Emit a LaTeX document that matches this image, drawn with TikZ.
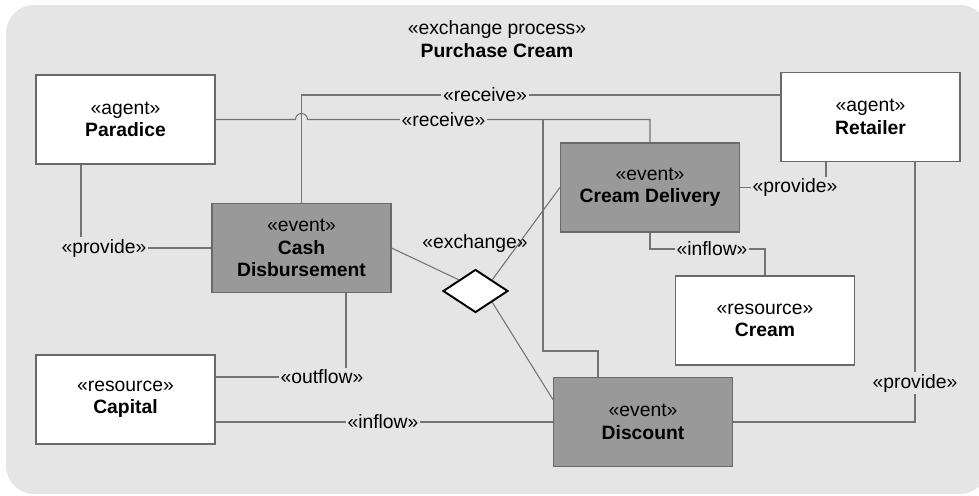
\documentclass[tikz,border=0pt]{standalone}
\usepackage{fontspec}
\setmainfont{Liberation Sans}
\usetikzlibrary{shapes,arrows,positioning,shapes.geometric}

\definecolor{sfondo}{RGB}{229,229,229}
\definecolor{evento}{RGB}{153,153,153}
\definecolor{bordo}{RGB}{105,105,105}
\definecolor{linee}{RGB}{115,115,115}

\begin{document}
\begin{tikzpicture}[x=0.02cm,y=-0.02cm]
\tikzset{base/.style={text=black, align=center, draw=bordo, line width=0.7pt, minimum width=3.58cm, minimum height=1.78cm, font=\fontsize{11}{12.8}\selectfont}, }
\tikzset{agent node/.style={base, fill=white}, }
\tikzset{resource node/.style={base, fill=white}, }
\tikzset{event node/.style={base, fill=evento}, }
\tikzset{scambio node/.style={diamond, draw=black, fill=white, line width=1.1pt, minimum width=1.3cm, minimum height=0.86cm, inner sep=0pt}, }
\tikzset{testo/.style={font=\fontsize{11}{12.8}\selectfont, align=center, inner sep=1pt}, }
\tikzset{etichetta/.style={testo, fill=sfondo}, }
\tikzset{linea/.style={draw=linee, line width=0.6pt}, }

\useasboundingbox (0,0) rectangle (979,495);
\fill[sfondo, rounded corners=16pt] (6,5) rectangle (988,494);

\node[testo] (titolo) at (497,39) {«exchange process»\\\textbf{Purchase Cream}};

\node[agent node] (paradice) at (125.5,119.5) {«agent»\\\textbf{Paradice}};
\node[agent node] (retailer) at (870.5,117) {«agent»\\\textbf{Retailer}};
\node[event node] (delivery) at (650,187.5) {«event»\\\textbf{Cream Delivery}};
\node[event node] (cash) at (301.5,248) {«event»\\\textbf{Cash}\\\textbf{Disbursement}};
\node[event node] (discount) at (643,422) {«event»\\\textbf{Discount}};
\node[resource node] (capital) at (125.5,399.5) {«resource»\\\textbf{Capital}};
\node[resource node] (cream) at (765,320.5) {«resource»\\\textbf{Cream}};
\node[scambio node] (scambio) at (475.5,291) {};

\coordinate (bivio) at (543,0 |- paradice.east);

\draw[linea] (cash.north) |- (retailer.west |- 0,95);
\draw[linea] (paradice.east) -- (295.5,0 |- paradice.east) arc[start angle=180, end angle=0, radius=1.2mm] -- (bivio) -- (delivery.north |- bivio) -- (delivery.north);
\draw[linea] (bivio) |- (598,351) -- (598,0 |- discount.north);
\draw[linea] (81,0 |- paradice.south) |- (cash.west);
\draw[linea] (346,0 |- cash.south) |- (capital.east |- 0,377);
\draw[linea] (capital.east |- discount.west) -- (discount.west);
\draw[linea] (delivery.south) |- (cream.north |- 0,249) -- (cream.north);
\draw[linea] (826,0 |- retailer.south) |- (delivery.east);
\draw[linea] (915,0 |- retailer.south) |- (discount.east);
\draw[linea] (cash.east) -- (scambio.north west);
\draw[linea] (scambio.north east) -- (delivery.west);
\draw[linea] (scambio.south east) -- (discount.166);

\node[etichetta] (ricevi1) at (485,95) {«receive»};
\node[etichetta] (ricevi2) at (443.5,119.5) {«receive»};
\node[etichetta] (fornisci1) at (104,248) {«provide»};
\node[etichetta] (uscita) at (322,377) {«outflow»};
\node[etichetta] (entrata1) at (383,422) {«inflow»};
\node[etichetta] (entrata2) at (712,249) {«inflow»};
\node[etichetta] (fornisci2) at (795,187.5) {«provide»};
\node[etichetta] (fornisci3) at (915,383) {«provide»};
\node[testo] (scambio label) at (475,243) {«exchange»};
\end{tikzpicture}
\end{document}
